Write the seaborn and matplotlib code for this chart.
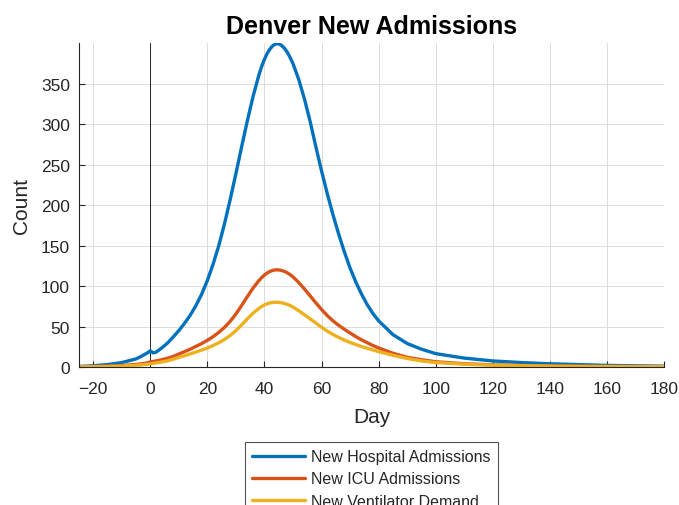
"""
Denver new admissions chart (MATLAB style)
"""

import pandas as pd
import matplotlib
matplotlib.use('Agg')
import matplotlib.pyplot as plt
import seaborn as sns

# Data
days = [-25, -20, -15, -10, -5, -3, -2, -1, 0, 1, 2, 4, 6, 8, 10, 12, 14, 16, 18,
        20, 22, 24, 26, 28, 30, 32, 34, 36, 38, 39, 40, 41, 42, 43, 44, 45, 46,
        47, 48, 49, 50, 52, 54, 56, 58, 60, 62, 64, 66, 68, 70, 72, 74, 76, 78,
        80, 85, 90, 95, 100, 110, 120, 130, 140, 150, 160, 170, 180]

hospital = [0.7, 1.5, 3, 5.5, 10, 13.5, 15.5, 17.5, 20, 17.5, 18.3, 23.5, 29.5,
            37, 45, 54, 64, 76, 90, 107, 127, 150, 177, 207, 239, 272, 304, 334,
            360, 371, 380, 387.5, 393, 397, 399, 399, 397, 393.5, 388.5, 382,
            374.5, 355, 331, 303, 272, 242, 214, 188, 164, 142, 122, 105, 90, 77,
            66, 57, 40, 29, 22, 16.5, 11, 7.5, 5.5, 4, 3, 2, 1.5, 1]

icu = [0.3, 0.6, 1, 1.8, 3.2, 4, 4.5, 5.2, 6.2, 6.9, 7.5, 9, 10.8, 13, 16, 19, 22,
       25.5, 29, 33, 37.5, 42.8, 49, 56.5, 65.5, 76, 87, 97.5, 106.5, 110.3,
       113.6, 116.2, 118.2, 119.4, 120, 119.9, 119.2, 118, 116.3, 114, 111.3,
       104.3, 96.3, 87.8, 79.2, 71, 63.5, 57, 51.5, 46.5, 42, 37.5, 33.5, 30,
       26.5, 23.5, 17, 12, 9, 6.5, 4, 2.7, 1.9, 1.4, 1, 0.8, 0.6, 0.5]

ventilator = [0.2, 0.4, 0.7, 1.2, 2.2, 2.8, 3.1, 3.5, 4, 4.5, 5, 6.2, 7.6, 9.6, 12,
              14, 16.2, 18.5, 21, 23.5, 26.5, 30, 34, 39, 45, 52, 59.5, 66.5, 72.3,
              74.7, 76.7, 78.2, 79.2, 79.8, 80, 79.8, 79.3, 78.5, 77.3, 75.8, 74,
              69.5, 64.5, 59.5, 54.3, 49, 44.3, 40.2, 36.5, 33.2, 30.3, 27.7, 25.3,
              23.1, 21, 19, 14.5, 10.5, 7.5, 5.5, 3.5, 2.3, 1.6, 1.1, 0.8, 0.6,
              0.5, 0.4]

series_names = ['New Hospital Admissions', 'New ICU Admissions', 'New Ventilator Demand']
series_values = [hospital, icu, ventilator]
colors = ['#0072BD', '#D95319', '#EDB120']

x_ticks = list(range(-20, 181, 20))
y_ticks = list(range(0, 351, 50))

sns.set_style('ticks')
plt.rcParams['font.family'] = ['Liberation Sans', 'DejaVu Sans']

fig = plt.figure(figsize=(6.79, 5.06), dpi=100)
ax = fig.add_axes([0.1163, 0.2727, 0.8617, 0.6403])

for name, vals, col in zip(series_names, series_values, colors):
    df = pd.DataFrame({'Day': days, 'Count': vals})
    sns.lineplot(data=df, x='Day', y='Count', ax=ax, color=col, linewidth=2.4,
                 label=name, sort=True, estimator=None)

# thin vertical marker at day 0
ax.axvline(0, color='#262626', linewidth=0.7, zorder=1)

ax.set_xlim(-25, 180)
ax.set_ylim(0, 400)
ax.set_xticks(x_ticks)
ax.set_yticks(y_ticks)
ax.grid(True, color='#dcdcdc', linewidth=0.7)
ax.set_axisbelow(True)

for side in ['top', 'right']:
    ax.spines[side].set_visible(False)
for side in ['left', 'bottom']:
    ax.spines[side].set_color('#262626')
    ax.spines[side].set_linewidth(0.8)

ax.tick_params(direction='in', length=4, width=0.8, colors='#262626',
               labelsize=12.5, labelcolor='#262626')
ax.tick_params(axis='x', pad=10)
ax.tick_params(axis='y', pad=6.5)

ax.set_xlabel('Day', fontsize=15, color='#262626', labelpad=8)
ax.set_ylabel('Count', fontsize=15, color='#262626', labelpad=7)
ax.set_title('Denver New Admissions', fontsize=18, fontweight='bold',
             color='black', pad=7)

leg = ax.legend(loc='upper left', bbox_to_anchor=(245 / 679, 1 - 443 / 506),
                bbox_transform=fig.transFigure, fontsize=11.5, frameon=True,
                fancybox=False, edgecolor='#262626', handlelength=3.3,
                handletextpad=0.4, borderpad=0.45, labelspacing=0.45,
                borderaxespad=0)
leg.get_frame().set_linewidth(0.8)
for line in leg.get_lines():
    line.set_linewidth(2.4)

plt.savefig('out.png', dpi=100)
plt.close()
